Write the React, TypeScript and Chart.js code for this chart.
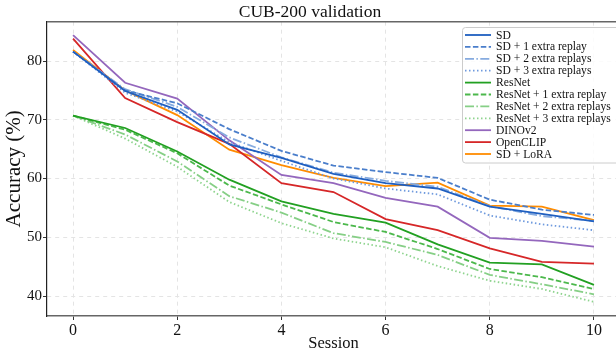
import React, { useEffect, useRef } from 'react';
import { Chart, registerables } from 'chart.js';
Chart.register(...registerables);

const sessions = [0, 1, 2, 3, 4, 5, 6, 7, 8, 9, 10];
const sd = [81.6, 74.9, 71.7, 65.8, 63.5, 60.8, 59.2, 58.3, 55.2, 54.0, 52.7];
const sd1 = [81.6, 75.0, 72.8, 68.4, 64.7, 62.2, 61.1, 60.1, 56.4, 54.7, 53.8];
const sd2 = [81.6, 75.2, 72.2, 67.0, 63.6, 61.0, 59.6, 58.6, 55.3, 53.6, 52.8];
const sd3 = [81.6, 74.6, 71.4, 66.2, 63.0, 60.0, 58.3, 57.3, 53.7, 52.2, 51.2];
const resnet = [70.7, 68.6, 64.6, 59.8, 56.1, 54.0, 52.5, 48.8, 45.7, 45.4, 41.9];
const resnet1 = [70.7, 68.3, 64.3, 58.8, 55.6, 52.6, 50.9, 48.0, 44.6, 43.2, 41.2];
const resnet2 = [70.7, 67.5, 62.9, 57.0, 54.2, 50.7, 49.2, 47.0, 43.6, 42.0, 40.3];
const resnet3 = [70.7, 66.8, 62.0, 56.0, 52.4, 49.8, 48.3, 45.1, 42.6, 41.2, 39.0];
const dinov2 = [84.4, 76.3, 73.6, 66.5, 60.6, 59.2, 56.7, 55.2, 49.9, 49.4, 48.4];
const openclip = [83.8, 73.7, 69.6, 65.9, 59.2, 57.7, 53.1, 51.2, 48.1, 45.8, 45.5];
const sdLora = [81.9, 75.0, 70.8, 64.9, 62.3, 60.1, 58.7, 59.3, 55.4, 55.2, 52.9];

const xTicks = [0, 2, 4, 6, 8, 10];
const yTicks = [40, 50, 60, 70, 80];

const seriesLabels = [
  'SD', 'SD + 1 extra replay', 'SD + 2 extra replays', 'SD + 3 extra replays',
  'ResNet', 'ResNet + 1 extra replay', 'ResNet + 2 extra replays', 'ResNet + 3 extra replays',
  'DINOv2', 'OpenCLIP', 'SD + LoRA',
];
const seriesValues = [sd, sd1, sd2, sd3, resnet, resnet1, resnet2, resnet3, dinov2, openclip, sdLora];
const seriesColors = [
  '#1f5fc0', '#4a7ecb', '#86abdf', '#6f9ade',
  '#22a022', '#4cb84c', '#86cf86', '#8ed48e',
  '#9467bd', '#d62728', '#ff8c00',
];
const DASHED = [5.5, 2.4];
const DASHDOT = [9, 2.4, 1.5, 2.4];
const DOTTED = [1.5, 2.5];
const seriesDashes = [[], DASHED, DASHDOT, DOTTED, [], DASHED, DASHDOT, DOTTED, [], [], []];

const FONT = '"Liberation Serif", "Times New Roman", "DejaVu Serif", serif';

export default function App() {
  const ref = useRef<HTMLCanvasElement | null>(null);
  useEffect(() => {
    if (!ref.current) return;
    const datasets = seriesLabels.map((label, i) => ({
      label,
      data: sessions.map((s, j) => ({ x: s, y: seriesValues[i][j] })),
      borderColor: seriesColors[i],
      backgroundColor: seriesColors[i],
      borderWidth: 1.8,
      borderDash: seriesDashes[i],
      pointRadius: 0,
      tension: 0,
      fill: false,
    }));

    const framePlugin = {
      id: 'frame',
      afterDraw(chart: any) {
        const { ctx, chartArea } = chart;
        ctx.save();
        ctx.strokeStyle = '#666';
        ctx.lineWidth = 1.5;
        ctx.setLineDash([]);
        ctx.beginPath();
        ctx.moveTo(chartArea.left, chartArea.top);
        ctx.lineTo(chartArea.right, chartArea.top);
        ctx.stroke();

        // legend
        const bx = 462.5, by = 27.5, bw = 200, bh = 135.5;
        ctx.beginPath();
        const r = 3;
        ctx.moveTo(bx + r, by);
        ctx.lineTo(bx + bw - r, by);
        ctx.arcTo(bx + bw, by, bx + bw, by + r, r);
        ctx.lineTo(bx + bw, by + bh - r);
        ctx.arcTo(bx + bw, by + bh, bx + bw - r, by + bh, r);
        ctx.lineTo(bx + r, by + bh);
        ctx.arcTo(bx, by + bh, bx, by + bh - r, r);
        ctx.lineTo(bx, by + r);
        ctx.arcTo(bx, by, bx + r, by, r);
        ctx.closePath();
        ctx.fillStyle = 'rgba(255,255,255,0.85)';
        ctx.fill();
        ctx.strokeStyle = '#cccccc';
        ctx.lineWidth = 1;
        ctx.stroke();

        ctx.font = `11.6px ${FONT}`;
        ctx.textBaseline = 'middle';
        ctx.textAlign = 'left';
        seriesLabels.forEach((label, i) => {
          const y = 35 + i * 11.9;
          ctx.strokeStyle = seriesColors[i];
          ctx.lineWidth = 1.8;
          ctx.setLineDash(seriesDashes[i]);
          ctx.beginPath();
          ctx.moveTo(465, y);
          ctx.lineTo(491, y);
          ctx.stroke();
          ctx.setLineDash([]);
          ctx.fillStyle = '#111';
          ctx.fillText(label, 496, y + 0.5);
        });
        ctx.restore();
      },
    };

    const chart = new Chart(ref.current, {
      type: 'line',
      data: { datasets },
      options: {
        animation: false,
        responsive: false,
        layout: { padding: { left: 0, right: 0, top: 0, bottom: 0 } },
        plugins: {
          legend: { display: false },
          tooltip: { enabled: false },
          title: {
            display: true,
            text: 'CUB-200 validation',
            color: '#111',
            font: { family: FONT, size: 17.5, weight: 'normal', lineHeight: 1.1 },
            padding: { top: 2.4, bottom: 0 },
          },
        },
        scales: {
          x: {
            type: 'linear',
            min: -0.5,
            max: 10.5,
            afterBuildTicks: (s: any) => {
              s.ticks = xTicks.map((v) => ({ value: v }));
            },
            afterFit: (s: any) => {
              s.height = 38;
            },
            ticks: {
              color: '#111',
              font: { family: FONT, size: 16 },
              padding: 1,
              maxRotation: 0,
              autoSkip: false,
            },
            grid: {
              color: '#e4e4e4',
              lineWidth: 1,
              tickLength: 4,
              tickColor: '#333',
            },
            border: { color: '#666', width: 1.5, dash: [4, 4] },
            title: {
              display: true,
              text: 'Session',
              color: '#111',
              font: { family: FONT, size: 16.5 },
              padding: { top: 0, bottom: 0 },
            },
          },
          y: {
            type: 'linear',
            min: 36.6,
            max: 86.7,
            afterBuildTicks: (s: any) => {
              s.ticks = yTicks.map((v) => ({ value: v }));
            },
            afterFit: (s: any) => {
              s.width = 47;
            },
            ticks: {
              color: '#111',
              font: { family: FONT, size: 15 },
              padding: 1,
            },
            grid: {
              color: '#e4e4e4',
              lineWidth: 1,
              tickLength: 4,
              tickColor: '#333',
            },
            border: { color: '#222', width: 1.2, dash: [4, 4] },
            title: {
              display: true,
              text: 'Accuracy (%)',
              color: '#111',
              font: { family: FONT, size: 21, lineHeight: 1.2 },
              padding: { top: 1.5, bottom: 0 },
            },
          },
        },
      },
      plugins: [framePlugin],
    } as any);
    return () => chart.destroy();
  }, []);

  return (
    <div style={{ position: 'fixed', left: 0, top: 0, width: 616, height: 354, overflow: 'hidden', background: '#fff' }}>
      <canvas ref={ref} width={620} height={354} style={{ width: 620, height: 354, display: 'block' }} />
    </div>
  );
}
